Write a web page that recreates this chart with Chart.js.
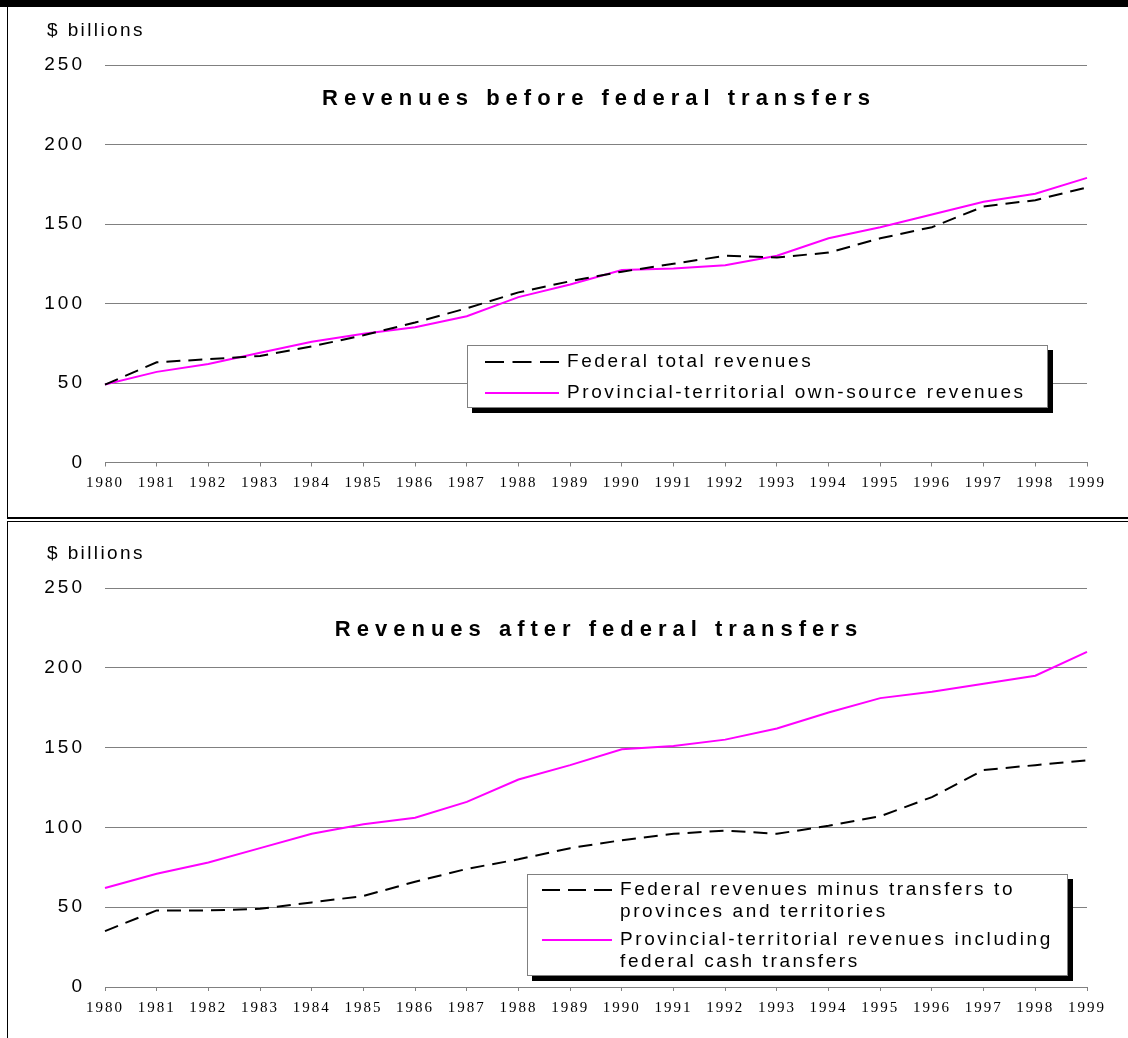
<!DOCTYPE html>
<html>
<head>
<meta charset="utf-8">
<title>Federal and provincial-territorial revenues</title>
<script src="https://cdn.jsdelivr.net/npm/chart.js@4.4.0/dist/chart.umd.min.js"></script>
<style>
    body { margin: 0; background: #fff; width: 1128px; height: 1038px; position: relative; overflow: hidden; }
    canvas { position: absolute; left: 0; }
    .rule { position: absolute; background: #000; z-index: 2; }
</style>
</head>
<body>
<canvas id="chartBefore" width="1128" height="517" style="top:0"></canvas>
<canvas id="chartAfter" width="1128" height="516" style="top:522px"></canvas>

<!-- panel frames -->
<div class="rule" style="left:0;top:0;width:1128px;height:7px"></div>
<div class="rule" style="left:7px;top:7px;width:1px;height:512px"></div>
<div class="rule" style="left:7px;top:517px;width:1121px;height:2px"></div>
<div class="rule" style="left:7px;top:521px;width:1121px;height:1px"></div>
<div class="rule" style="left:7px;top:521px;width:1px;height:517px"></div>

<script>
// Datos ($ miles de millones)
const years = ['1980', '1981', '1982', '1983', '1984', '1985', '1986', '1987', '1988', '1989',
               '1990', '1991', '1992', '1993', '1994', '1995', '1996', '1997', '1998', '1999'];

const federalTotal        = [49, 63, 65, 67, 73, 80, 88, 97, 107, 114, 120, 125, 130, 129, 132, 141, 148, 161, 165, 173];
const provincialOwnSource = [49, 57, 62, 69, 76, 81, 85, 92, 104, 112, 121, 122, 124, 130, 141, 148, 156, 164, 169, 179];

const federalNet              = [35, 48, 48, 49, 53, 57, 66, 74, 80, 87, 92, 96, 98, 96, 101, 107, 119, 136, 139, 142];
const provincialWithTransfers = [62, 71, 78, 87, 96, 102, 106, 116, 130, 139, 149, 151, 155, 162, 172, 181, 185, 190, 195, 210];

const yMin = 0;
const yMax = 250;
const yStep = 50;
const unitLabel = '$ billions';

// Espaciado de letras para las etiquetas de los ejes
const tickSpacing = {
    id: 'tickSpacing',
    beforeDraw(chart) {
        Object.values(chart.scales).forEach(scale => {
            if (scale._spaced) return;
            const drawLabels = scale.drawLabels;
            scale.drawLabels = function (area) {
                this.ctx.save();
                this.ctx.letterSpacing = this.axis === 'x' ? '2px' : '3px';
                drawLabels.call(this, area);
                this.ctx.restore();
            };
            scale._spaced = true;
        });
    }
};

// Título, unidad y leyenda con sombra
const panelText = {
    id: 'panelText',
    afterDraw(chart, args, opts) {
        const ctx = chart.ctx;
        const area = chart.chartArea;
        ctx.save();
        ctx.fillStyle = '#000';
        ctx.textBaseline = 'middle';
        ctx.textAlign = 'left';

        ctx.font = '19px "Liberation Sans", Arial, sans-serif';
        ctx.letterSpacing = '2.4px';
        ctx.fillText(unitLabel, 47, area.top - 34);

        ctx.font = 'bold 22px "Liberation Sans", Arial, sans-serif';
        ctx.letterSpacing = '6px';
        const w = ctx.measureText(opts.title).width - 6;
        const cx = (area.left + area.right) / 2;
        ctx.fillText(opts.title, cx - w / 2, area.top + opts.titleOffset);

        // leyenda
        const box = opts.legend;
        ctx.fillStyle = '#000';
        ctx.fillRect(box.x + 5, box.y + 5, box.w, box.h);
        ctx.fillStyle = '#fff';
        ctx.fillRect(box.x, box.y, box.w, box.h);
        ctx.strokeStyle = '#808080';
        ctx.lineWidth = 1;
        ctx.strokeRect(box.x + 0.5, box.y + 0.5, box.w - 1, box.h - 1);

        ctx.font = '19px "Liberation Sans", Arial, sans-serif';
        ctx.letterSpacing = '2.6px';
        let y = box.y + box.firstRow;
        chart.data.datasets.forEach(ds => {
            const lines = Array.isArray(ds.label) ? ds.label : [ds.label];
            ctx.save();
            ctx.strokeStyle = ds.borderColor;
            ctx.lineWidth = 2;
            ctx.setLineDash(ds.borderDash ? box.sampleDash : []);
            ctx.beginPath();
            ctx.moveTo(box.sampleX, y);
            ctx.lineTo(box.sampleX + box.sampleW, y);
            ctx.stroke();
            ctx.restore();
            ctx.fillStyle = '#000';
            lines.forEach((line, i) => {
                ctx.fillText(line, box.textX, y + i * box.lineGap);
            });
            y += box.itemGap;
        });
        ctx.restore();
    }
};

function buildChart(canvasId, title, datasets, layout) {
    return new Chart(document.getElementById(canvasId), {
        type: 'line',
        data: {
            labels: years,
            datasets: datasets.map(d => ({
                label: d.label,
                data: d.data,
                borderColor: d.color,
                borderWidth: 2,
                borderDash: d.dash,
                pointRadius: 0,
                tension: 0,
                fill: false
            }))
        },
        options: {
            responsive: false,
            animation: false,
            layout: { padding: { top: layout.top, right: 41, left: 0, bottom: 0 } },
            scales: {
                x: {
                    grid: { display: true, drawOnChartArea: false, drawTicks: true, tickLength: 4, color: '#808080' },
                    border: { color: '#808080', width: 1 },
                    ticks: {
                        autoSkip: false, maxRotation: 0, padding: 8, color: '#000',
                        font: { family: '"Liberation Serif", "Times New Roman", serif', size: 15 }
                    },
                    afterFit: scale => { scale.height = layout.axisHeight; }
                },
                y: {
                    min: yMin,
                    max: yMax,
                    grid: { color: '#808080', lineWidth: 1, drawTicks: false },
                    border: { display: false },
                    ticks: {
                        stepSize: yStep, padding: 20, color: '#000',
                        font: { family: '"Liberation Sans", Arial, sans-serif', size: 19 }
                    },
                    afterFit: scale => { scale.width = 105; }
                }
            },
            plugins: {
                legend: { display: false },
                tooltip: { enabled: false },
                panelText: { title: title, titleOffset: layout.titleOffset, legend: layout.legend }
            }
        },
        plugins: [tickSpacing, panelText]
    });
}

buildChart('chartBefore', 'Revenues before federal transfers', [
    { label: 'Federal total revenues', data: federalTotal, color: '#000000', dash: [14, 8] },
    { label: 'Provincial-territorial own-source revenues', data: provincialOwnSource, color: '#ff00ff' }
], {
    top: 65, axisHeight: 54.5, titleOffset: 34,
    legend: { x: 467, y: 345, w: 581, h: 63, firstRow: 17, itemGap: 31, lineGap: 21.6,
              sampleX: 485, sampleW: 74, sampleDash: [19, 8.5], textX: 567 }
});

buildChart('chartAfter', 'Revenues after federal transfers', [
    { label: ['Federal revenues minus transfers to', 'provinces and territories'], data: federalNet, color: '#000000', dash: [14, 8] },
    { label: ['Provincial-territorial revenues including', 'federal cash transfers'], data: provincialWithTransfers, color: '#ff00ff' }
], {
    top: 66, axisHeight: 51, titleOffset: 42,
    legend: { x: 527, y: 352, w: 541, h: 102, firstRow: 16, itemGap: 50, lineGap: 21.6,
              sampleX: 542, sampleW: 70, sampleDash: [18, 8], textX: 620 }
});
</script>
</body>
</html>
